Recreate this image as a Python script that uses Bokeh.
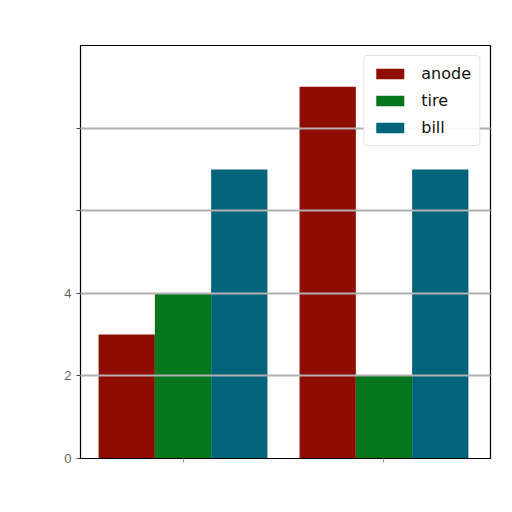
import numpy as np
from bokeh.plotting import figure
from bokeh.models import Legend, LegendItem, FixedTicker
from bokeh.embed import file_html
from bokeh.resources import INLINE

# data
groups = [0, 1]
series = ["anode", "tire", "bill"]
anode = [3, 9]
tire = [4, 2]
bill = [7, 7]
colors = ["#8f0c02", "#05761c", "#02647a"]
y_ticks = [0, 2, 4, 6, 8]

w = 0.28

p = figure(width=500, height=500, x_range=(-0.51, 1.53), y_range=(0, 10),
           output_backend="svg", toolbar_location=None,
           min_border_left=80, min_border_right=10,
           min_border_top=45, min_border_bottom=42)

renderers = []
for i, vals in enumerate([anode, tire, bill]):
    xs = np.array(groups) + (i - 1) * w
    r = p.vbar(x=xs, top=vals, width=w, bottom=0,
               fill_color=colors[i], line_color=None)
    renderers.append(r)

# axes, matplotlib look
p.outline_line_color = "black"
p.outline_line_width = 1.2
p.xaxis.ticker = FixedTicker(ticks=groups)
p.xaxis.major_label_overrides = {0: "", 1: ""}
p.xaxis.axis_line_color = "black"
p.xaxis.major_tick_line_color = "#999999"
p.xaxis.major_tick_out = 4
p.xaxis.major_tick_in = 0
p.xaxis.minor_tick_line_color = None

p.yaxis.ticker = FixedTicker(ticks=y_ticks)
p.yaxis.major_label_overrides = {6: "", 8: ""}
p.yaxis.major_label_text_font_size = "13px"
p.yaxis.major_label_text_color = "#666666"
p.yaxis.axis_line_color = "black"
p.yaxis.major_tick_line_color = "#444444"
p.yaxis.major_tick_out = 4
p.yaxis.major_tick_in = 0
p.yaxis.minor_tick_line_color = None

p.xgrid.grid_line_color = None
p.ygrid.ticker = FixedTicker(ticks=[2, 4, 6, 8])
p.ygrid.grid_line_color = "#b0b0b0"
p.ygrid.grid_line_width = 2
p.ygrid.level = "overlay"

legend = Legend(items=[LegendItem(label=s, renderers=[r]) for s, r in zip(series, renderers)],
                location="top_right")
legend.label_text_font_size = "16px"
legend.label_text_font = "DejaVu Sans"
legend.label_text_color = "#111111"
legend.glyph_width = 35
legend.glyph_height = 13
legend.spacing = 8
legend.padding = 8
legend.margin = 10
legend.label_standoff = 14
legend.border_line_color = "#cccccc"
legend.border_radius = 4
legend.background_fill_alpha = 0.9
p.add_layout(legend)

open("out.html", "w").write(file_html(p, INLINE))
